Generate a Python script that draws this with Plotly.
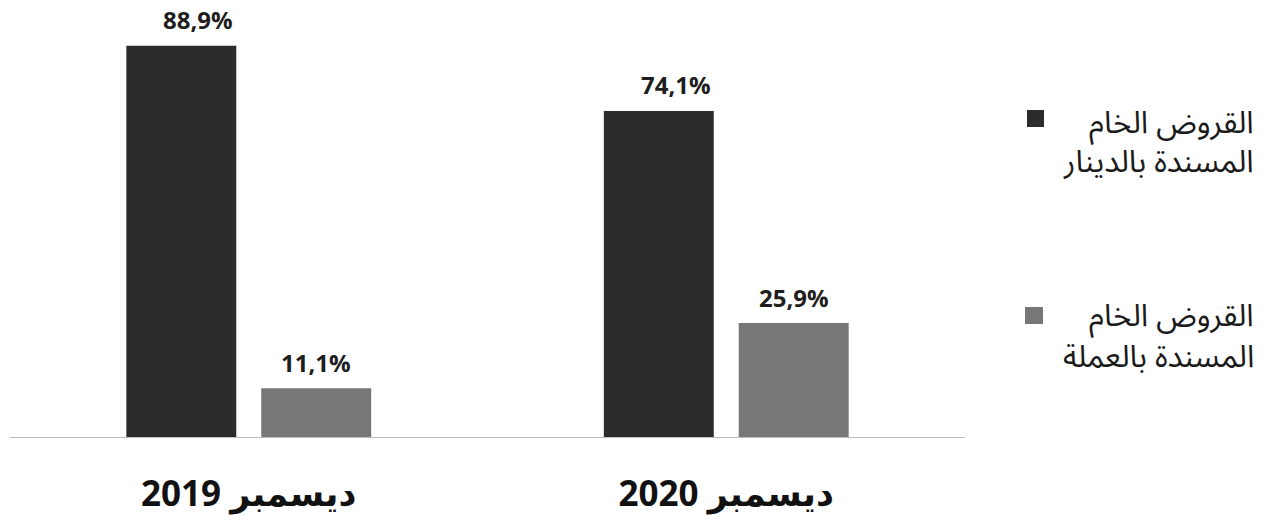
import plotly.graph_objects as go

# ---- data ----
categories = ["ديسمبر 2019", "ديسمبر 2020"]
series_names = ["القروض الخام المسندة بالدينار", "القروض الخام المسندة بالعملة"]
dinar_values = [88.9, 74.1]
currency_values = [11.1, 25.9]
series_values = [dinar_values, currency_values]
colors = ["#2c2c2c", "#777777"]
label_xshift = [17, 0]

# ---- layout params ----
W, H = 1272, 522
ml, mt = 10, 32
mb = H - 437
mr = W - 965
plot_w = W - ml - mr
plot_h = H - mt - mb
px_per_unit = 4.4
y_max = plot_h / px_per_unit
bargap = 0.435
bargroupgap = 0.185

fig = go.Figure()
for name, vals, col in zip(series_names, series_values, colors):
    fig.add_trace(go.Bar(
        x=categories, y=vals, name=name,
        marker=dict(color=col, line=dict(width=0)),
        showlegend=False, hoverinfo="x+y+name",
    ))

# value labels above bars
n_tr = len(series_values)
slot = (1 - bargap) / n_tr
for j, vals in enumerate(series_values):
    for i, v in enumerate(vals):
        xpos = i - (1 - bargap) / 2 + slot * (j + 0.5)
        fig.add_annotation(
            x=xpos, y=v, xref="x", yref="y",
            text="<b>" + f"{v:.1f}".replace(".", ",") + "%</b>",
            showarrow=False, yanchor="middle", yshift=26, xshift=label_xshift[j],
            font=dict(family="Open Sans, DejaVu Sans", size=24, color="#1e1e1e"),
        )

# manual legend (lines right-aligned, square on the left)
def px_x(p):
    return (p - ml) / plot_w

def px_y(p):
    return (H - mb - p) / plot_h

legend_line_centers = [(123, 162), (316, 357)]
legend_sq = [(1027, 1044, 110, 127), (1025, 1043, 307, 324)]
for name, col, centers, sq in zip(series_names, colors, legend_line_centers, legend_sq):
    words = name.split(" ")
    lines = [" ".join(words[:2]), " ".join(words[2:])]
    for line, cy in zip(lines, centers):
        fig.add_annotation(
            x=px_x(1255), y=px_y(cy), xref="paper", yref="paper",
            xanchor="right", yanchor="middle", align="right",
            text=line, showarrow=False, borderpad=0,
            font=dict(family="Noto Sans Arabic, DejaVu Sans", size=31, color="#1a1a1a"),
        )
    fig.add_shape(
        type="rect", xref="paper", yref="paper",
        x0=px_x(sq[0]), x1=px_x(sq[1]), y0=px_y(sq[3]), y1=px_y(sq[2]),
        fillcolor=col, line=dict(width=0),
    )

fig.update_layout(
    width=W, height=H,
    margin=dict(l=ml, r=mr, t=mt, b=mb, autoexpand=False),
    paper_bgcolor="white", plot_bgcolor="white",
    barmode="group", bargap=bargap, bargroupgap=bargroupgap,
    showlegend=False,
)
fig.update_xaxes(
    showline=True, linecolor="#bdbdbd", linewidth=1, automargin=False,
    showgrid=False, ticks="", ticklabelstandoff=26,
    tickfont=dict(family="Open Sans, DejaVu Sans", size=35, color="#111111", weight="bold"),
)
fig.update_yaxes(visible=False, range=[0, y_max], showgrid=False, zeroline=False,
                 automargin=False)

fig.write_html(
    "out.html",
    config={"displayModeBar": False},
    post_script="document.body.style.margin='0';document.body.style.overflow='hidden';",
)
